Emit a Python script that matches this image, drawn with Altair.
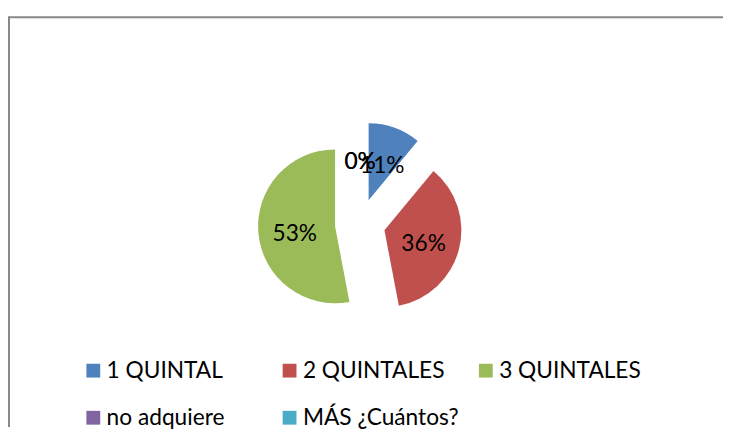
import altair as alt
import pandas as pd

categories = ["1 QUINTAL", "2 QUINTALES", "3 QUINTALES", "no adquiere", "MÁS ¿Cuántos?"]
values = [11, 36, 53, 0, 0]
colors = ["#4F81BD", "#C0504D", "#9BBB59", "#8064A2", "#4BACC6"]

df = pd.DataFrame({"cat": categories, "v": values, "order": list(range(len(categories)))})

W, H = 724, 422
CX, CY = 356, 216
R = 78
EXPLODE = 25.5
LABEL_R = EXPLODE + 41

base = (
    alt.Chart(df)
    .transform_joinaggregate(total="sum(v)")
    .transform_window(cum="sum(v)", sort=[alt.SortField("order")], frame=[None, 0])
    .transform_calculate(t0="2*PI*(datum.cum - datum.v)/datum.total")
    .transform_calculate(t1="2*PI*datum.cum/datum.total")
    .transform_calculate(mid="(datum.t0 + datum.t1)/2")
    .transform_calculate(
        ax=f"{CX} + {EXPLODE}*sin(datum.mid)",
        ay=f"{CY} - {EXPLODE}*cos(datum.mid)",
        lx=f"{CX} + {LABEL_R}*sin(datum.mid)",
        ly=f"{CY} - {LABEL_R}*cos(datum.mid)",
        label="round(100*datum.v/datum.total) + '%'",
    )
)

arcs = base.mark_arc(outerRadius=R).encode(
    x=alt.X("ax:Q", scale=None),
    y=alt.Y("ay:Q", scale=None),
    theta=alt.Theta("t0:Q", scale=None, stack=None),
    theta2="t1:Q",
    color=alt.Color(
        "cat:N",
        scale=alt.Scale(domain=categories, range=colors),
        sort=categories,
        legend=alt.Legend(
            title=None,
            orient="none",
            legendX=74,
            legendY=353,
            direction="horizontal",
            columns=3,
            gridAlign="all",
            symbolType="square",
            symbolSize=196,
            symbolStrokeWidth=0,
            labelFont="Lato",
            labelFontSize=23,
            labelColor="#000000",
            labelOffset=2,
            labelLimit=400,
            columnPadding=15,
            rowPadding=24,
            padding=0,
        ),
    ),
)

labels = base.mark_text(font="Lato", fontSize=23, color="#000000", dy=4).encode(
    x=alt.X("lx:Q", scale=None),
    y=alt.Y("ly:Q", scale=None),
    text="label:N",
)

frame_df = pd.DataFrame({"k": [0]})
top_line = alt.Chart(frame_df).mark_rule(color="#878787", strokeWidth=2).encode(
    x=alt.value(0), x2=alt.value(W), y=alt.value(6.5)
)
left_line = alt.Chart(frame_df).mark_rule(color="#878787", strokeWidth=2).encode(
    x=alt.value(0), y=alt.value(5.5), y2=alt.value(H)
)

chart = (
    alt.layer(top_line, left_line, arcs, labels)
    .properties(width=W, height=H, padding={"left": 0, "top": 0, "right": 0, "bottom": 0})
    .configure_view(stroke=None)
)

chart.save("out.html", embed_options={"renderer": "svg", "actions": False})
